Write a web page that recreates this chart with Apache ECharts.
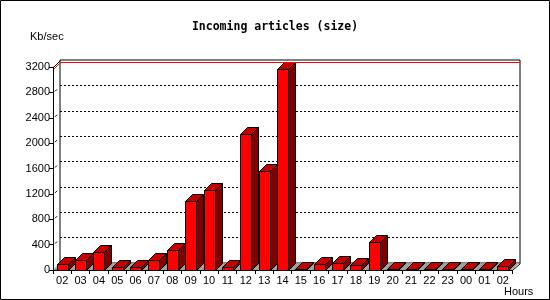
<!DOCTYPE html>
<html><head><meta charset="utf-8">
<script src="https://cdn.jsdelivr.net/npm/echarts@6/dist/echarts.min.js"></script>
<style>html,body{margin:0;padding:0;background:#fff}#c{width:550px;height:300px}</style>
</head><body><div id="c"></div>
<script>
const hours = ['02','03','04','05','06','07','08','09','10','11','12','13','14','15','16','17','18','19','20','21','22','23','00','01','02'];
const kbPerSec = [90,153,284,42,42,153,311,1085,1258,42,2142,1558,3168,21,90,105,74,437,5,15,5,5,5,15,63];
const yMin = 0, yMax = 3200, yStep = 400;
const titleText = 'Incoming articles (size)';
const yUnit = 'Kb/sec';
const xUnit = 'Hours';

const maxVal = Math.max(...kbPerSec);
const D = 7; // 3D depth offset in px
const px = v => Math.round(v) + 0.5;

const chart = echarts.init(document.getElementById('c'), null, {renderer: 'canvas'});
const labelFont = {color: '#000', fontFamily: 'Liberation Sans', fontSize: 11};

chart.setOption({
  animation: false,
  backgroundColor: '#fff',
  title: {
    text: titleText, left: 'center', top: 21, padding: 0,
    textStyle: {fontFamily: 'DejaVu Sans Mono', fontWeight: 'bold', fontSize: 11.5, color: '#000'}
  },
  graphic: [
    {type: 'rect', shape: {x: 0.5, y: 0.5, width: 549, height: 299}, style: {fill: null, stroke: '#000', lineWidth: 1}, z: 100},
    {type: 'text', left: 30, top: 31, style: {text: yUnit, fill: '#000', font: '11px "Liberation Sans"'}},
    {type: 'text', left: 504, top: 286, style: {text: xUnit, fill: '#000', font: '11px "Liberation Sans"'}}
  ],
  grid: [
    {left: 53, right: 38, top: 67, bottom: 30},
    {left: 60, right: 30, top: 60, bottom: 37, show: true, borderColor: '#000', borderWidth: 1, backgroundColor: 'transparent'}
  ],
  xAxis: [
    {type: 'category', gridIndex: 0, data: hours, boundaryGap: true, z: 5,
     axisLine: {lineStyle: {color: '#000', width: 1}},
     axisTick: {show: true, length: 4, lineStyle: {color: '#000'}, interval: 0},
     axisLabel: Object.assign({interval: 0, margin: 5}, labelFont),
     splitLine: {show: false}},
    {type: 'value', gridIndex: 1, min: 0, max: 1, show: false}
  ],
  yAxis: [
    {type: 'value', gridIndex: 0, min: yMin, max: yMax, interval: yStep, z: 5,
     axisLine: {show: true, lineStyle: {color: '#000', width: 1}},
     axisTick: {show: true, length: 4, lineStyle: {color: '#000'}},
     axisLabel: Object.assign({margin: 3, formatter: v => String(v)}, labelFont),
     splitLine: {show: false}},
    {type: 'value', gridIndex: 1, min: yMin, max: yMax, interval: yStep,
     axisLine: {show: false}, axisTick: {show: false}, axisLabel: {show: false},
     splitLine: {show: true, showMinLine: false, showMaxLine: false, lineStyle: {color: '#000', width: 1, type: [2, 2]}}}
  ],
  series: [
    {
      type: 'custom', name: 'floor', xAxisIndex: 0, yAxisIndex: 0, z: 1,
      data: hours.map((h, i) => [i, 0]),
      renderItem(params, api) {
        const c = api.coord([api.value(0), 0]);
        const bw = api.size([1, 0])[0];
        const xa = c[0] - bw / 2, xb = c[0] + bw / 2, yb = c[1];
        return {type: 'polygon', shape: {points: [[xa, yb], [xb, yb], [xb + D, yb - D], [xa + D, yb - D]]},
                style: {fill: '#999999', stroke: null}};
      }
    },
    {
      type: 'custom', name: 'bars', xAxisIndex: 0, yAxisIndex: 0, z: 2,
      data: kbPerSec.map((v, i) => [i, v]),
      renderItem(params, api) {
        const i = api.value(0), v = api.value(1);
        const base = api.coord([i, 0]);
        const top = api.coord([i, v]);
        const bw = api.size([1, 0])[0];
        const w = Math.round(bw * 0.6);
        const x0 = px(base[0] - w / 2), x1 = x0 + w;
        const yb = px(base[1]), yt = Math.min(px(top[1]), yb - 1);
        const st = {stroke: '#000', lineWidth: 1};
        return {type: 'group', children: [
          {type: 'polygon', shape: {points: [[x1, yb], [x1 + D, yb - D], [x1 + D, yt - D], [x1, yt]]},
           style: Object.assign({fill: '#800000'}, st)},
          {type: 'polygon', shape: {points: [[x0, yt], [x1, yt], [x1 + D, yt - D], [x0 + D, yt - D]]},
           style: Object.assign({fill: '#c40000'}, st)},
          {type: 'rect', shape: {x: x0, y: yt, width: w, height: yb - yt},
           style: Object.assign({fill: '#ff0000'}, st)}
        ]};
      }
    },
    {
      type: 'custom', name: 'ticks3d', xAxisIndex: 0, yAxisIndex: 0, z: 3,
      data: (function () { const a = []; for (let t = yMin + yStep; t < yMax; t += yStep) a.push([0, t]); return a; })(),
      renderItem(params, api) {
        const cs = params.coordSys;
        const y = api.coord([0, api.value(1)])[1];
        return {type: 'line', shape: {x1: cs.x + 2, y1: y - 1, x2: cs.x + 4, y2: y - 3},
                style: {stroke: '#000', lineWidth: 1}};
      }
    },
    {
      type: 'custom', name: 'frame', xAxisIndex: 0, yAxisIndex: 0, z: 4,
      data: [[0, yMax, maxVal]],
      renderItem(params, api) {
        const cs = params.coordSys;
        const yTop = api.coord([0, api.value(1)])[1];
        const yMaxV = api.coord([0, api.value(2)])[1];
        const backRight = 520;
        return {type: 'group', children: [
          {type: 'line', shape: {x1: cs.x + 0.5, y1: yTop + 0.5, x2: cs.x + D + 0.5, y2: yTop - D + 0.5}, style: {stroke: '#000', lineWidth: 1}},
          {type: 'line', shape: {x1: cs.x + 0.5, y1: px(yMaxV), x2: cs.x + D + 0.5, y2: px(yMaxV) - D}, style: {stroke: '#ff0000', lineWidth: 1}},
          {type: 'line', shape: {x1: cs.x + D + 0.5, y1: px(yMaxV) - D, x2: backRight, y2: px(yMaxV) - D}, style: {stroke: '#ff0000', lineWidth: 1}},
          {type: 'line', shape: {x1: cs.x + cs.width + 0.5, y1: cs.y + cs.height + 0.5, x2: backRight + 0.5, y2: cs.y + cs.height - D + 0.5}, style: {stroke: '#000', lineWidth: 1}}
        ]};
      }
    }
  ]
});
</script></body></html>
